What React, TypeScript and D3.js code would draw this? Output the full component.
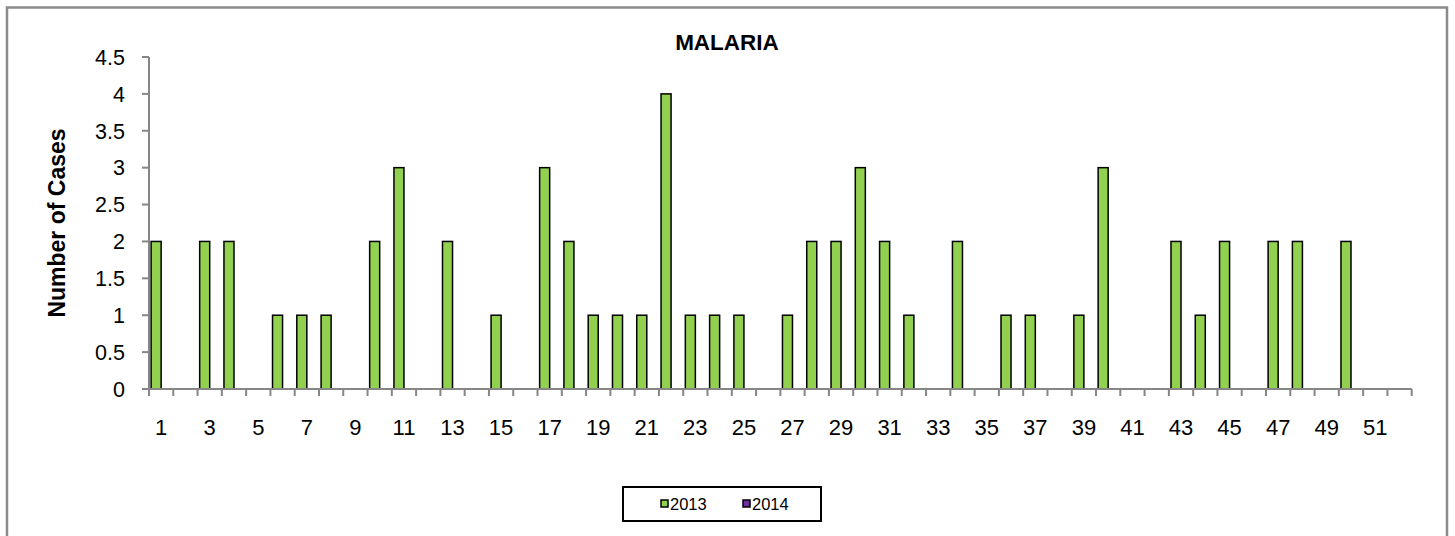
import React from "react";
import * as d3 from "d3";

const width = 1455;
const height = 536;

// plot area
const plot = { left: 149, right: 1411.7, top: 57, bottom: 389 };

const weeks = d3.range(1, 53).map(String);
const seriesNames = ["2013", "2014"];
const cases2013 = [
  2, 0, 2, 2, 0, 1, 1, 1, 0, 2, 3, 0, 2, 0, 1, 0, 3, 2, 1, 1, 1, 4, 1, 1, 1, 0,
  1, 2, 2, 3, 2, 1, 0, 2, 0, 1, 1, 0, 1, 3, 0, 0, 2, 1, 2, 0, 2, 2, 0, 2, 0, 0,
];
const cases2014: number[] = []; // no 2014 values shown
const yTicks = [0, 0.5, 1, 1.5, 2, 2.5, 3, 3.5, 4, 4.5];

const colors: Record<string, string> = { "2013": "#92D050", "2014": "#7030A0" };
const axisColor = "#868686";
const font = "Liberation Sans, Arial, sans-serif";

export default function App() {
  const x0 = d3
    .scaleBand<string>()
    .domain(weeks)
    .range([plot.left, plot.right])
    .padding(0);

  const x1 = d3
    .scaleBand<string>()
    .domain(seriesNames)
    .range([0, x0.bandwidth()])
    .paddingInner(0)
    .paddingOuter(0.21);

  const y = d3.scaleLinear().domain([0, 4.5]).range([plot.bottom, plot.top]);

  const values: Record<string, number[]> = { "2013": cases2013, "2014": cases2014 };

  // category boundaries for x ticks
  const xTickPos = weeks.map((w) => x0(w)!).concat([plot.right]);

  return (
    <svg
      width={width}
      height={height}
      style={{ position: "absolute", left: 0, top: 0, display: "block" }}
      fontFamily={font}
    >
      <rect x={0} y={0} width={width} height={height} fill="#fff" />
      {/* outer chart frame */}
      <rect
        x={7}
        y={7.5}
        width={1440}
        height={530}
        fill="none"
        stroke="#8a8a8a"
        strokeWidth={2.5}
      />

      <text x={727} y={50} textAnchor="middle" fontWeight="bold" fontSize={22.5}>
        MALARIA
      </text>

      {/* bars */}
      {seriesNames.map((s) =>
        values[s].map((v, i) =>
          v > 0 ? (
            <rect
              key={s + i}
              x={x0(weeks[i])! + x1(s)!}
              y={y(v)}
              width={x1.bandwidth()}
              height={y(0) - y(v)}
              fill={colors[s]}
              stroke="#000"
              strokeWidth={1.5}
            />
          ) : null
        )
      )}

      {/* y axis */}
      <g>
        <line
          x1={plot.left}
          x2={plot.left}
          y1={plot.top}
          y2={plot.bottom}
          stroke={axisColor}
          strokeWidth={2}
        />
        {yTicks.map((t) => (
          <g key={t} transform={`translate(0,${y(t)})`}>
            <line x1={plot.left - 7} x2={plot.left} stroke={axisColor} strokeWidth={2} />
            <text x={125} dy="0.36em" textAnchor="end" fontSize={21.5}>
              {t}
            </text>
          </g>
        ))}
      </g>

      {/* x axis */}
      <g>
        <line
          x1={plot.left - 7}
          x2={plot.right}
          y1={plot.bottom}
          y2={plot.bottom}
          stroke={axisColor}
          strokeWidth={2}
        />
        {xTickPos.map((p, i) => (
          <line
            key={i}
            x1={p}
            x2={p}
            y1={plot.bottom}
            y2={plot.bottom + 7}
            stroke={axisColor}
            strokeWidth={2}
          />
        ))}
        {weeks
          .filter((_, i) => i % 2 === 0)
          .map((w) => (
            <text
              key={w}
              x={x0(w)! + x0.bandwidth() / 2}
              y={435}
              textAnchor="middle"
              fontSize={22}
            >
              {w}
            </text>
          ))}
      </g>

      <text
        transform={`translate(65,223) rotate(-90)`}
        textAnchor="middle"
        fontWeight="bold"
        fontSize={23}
      >
        Number of Cases
      </text>

      {/* legend */}
      <g>
        <rect x={623} y={487} width={198} height={34} fill="#fff" stroke="#000" strokeWidth={2} />
        {seriesNames.map((s, i) => (
          <g key={s} transform={`translate(${661 + i * 82},504)`}>
            <rect x={0} y={-4} width={7} height={7} fill={colors[s]} stroke="#000" strokeWidth={1.5} />
            <text x={9} dy="0.36em" fontSize={16.5}>
              {s}
            </text>
          </g>
        ))}
      </g>
    </svg>
  );
}
